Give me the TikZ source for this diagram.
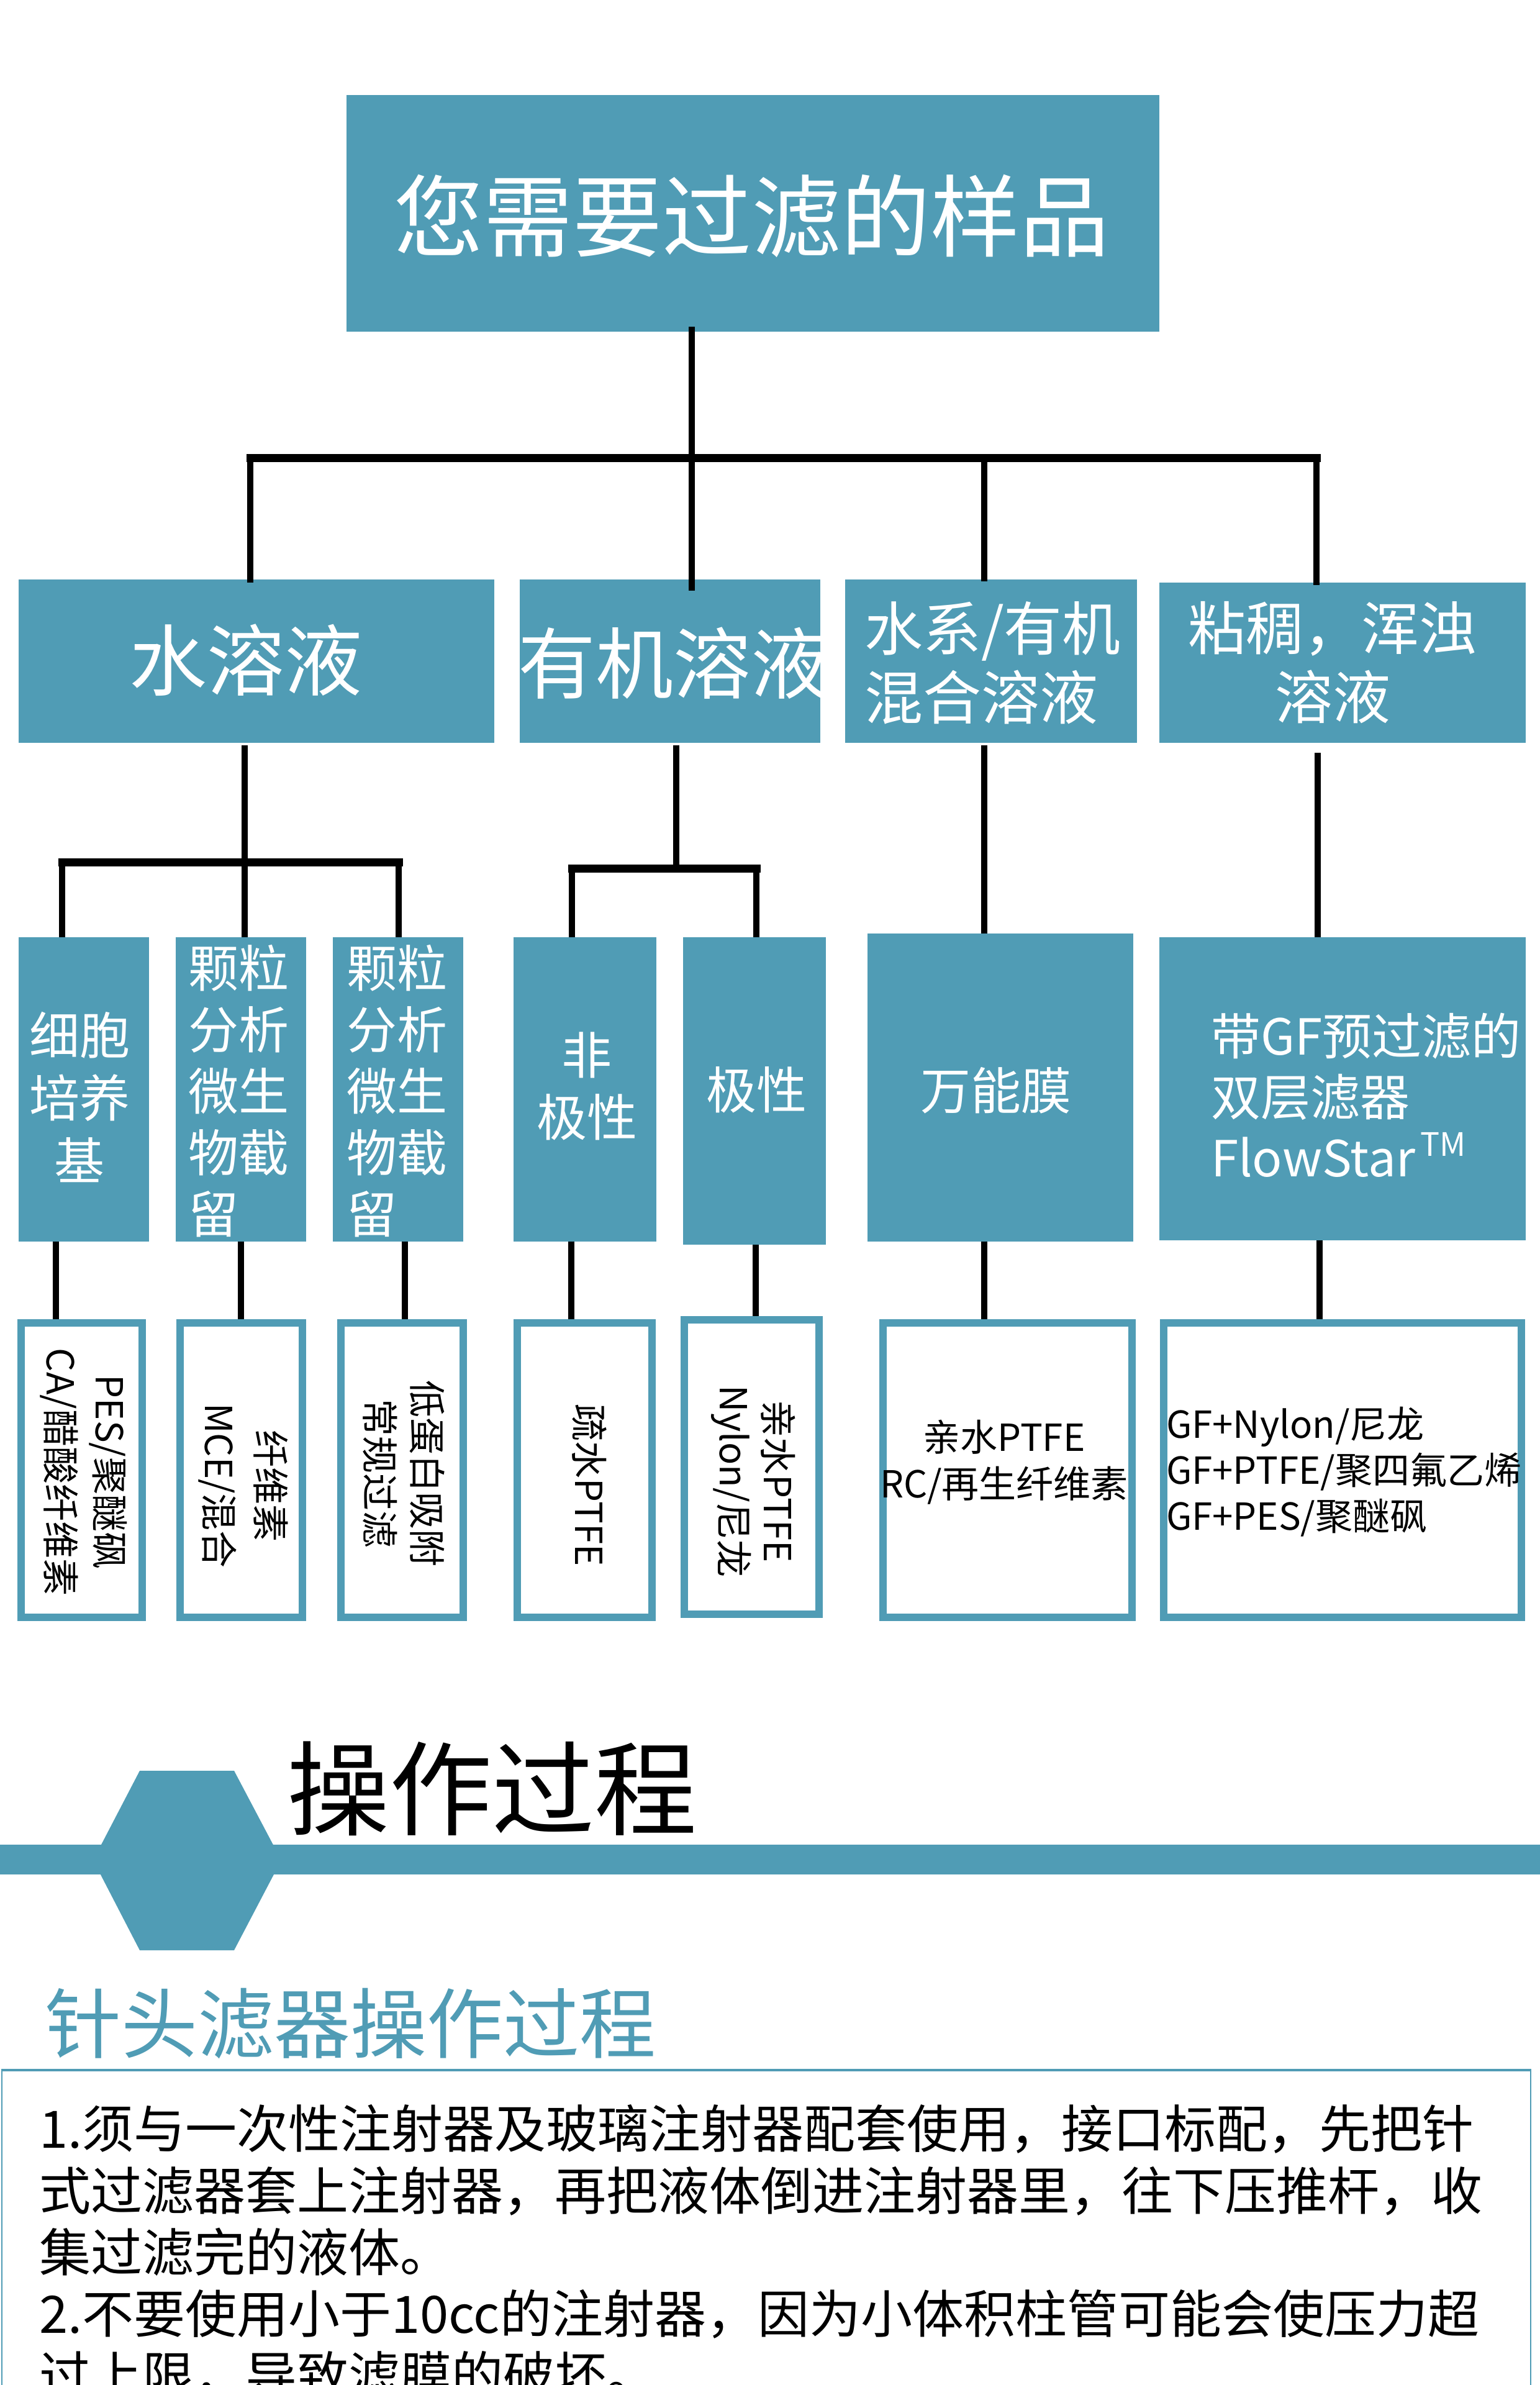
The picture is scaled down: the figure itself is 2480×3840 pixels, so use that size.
\documentclass[tikz,border=0pt]{standalone}
\usepackage{fontspec}
\setmainfont{Noto Sans CJK SC}
\definecolor{teal1}{RGB}{80,156,181}
\newcommand{\myfs}[2]{\fontsize{#1pt}{#2pt}\selectfont}
\tikzset{
  tealbox/.style={fill=teal1, draw=none, inner sep=0pt, outer sep=0pt, anchor=north west},
  outbox/.style={fill=white, draw=teal1, line width=12pt, inner sep=0pt, outer sep=0pt, anchor=north west, minimum height=474pt},
  conn/.style={draw=black, line width=10pt},
  barline/.style={draw=black, line width=13pt, line cap=rect},
  wlbl/.style={text=white, inner sep=0pt, outer sep=0pt, align=center},
  blbl/.style={text=black, inner sep=0pt, outer sep=0pt, align=center},
}
\begin{document}
\begin{tikzpicture}[x=1pt,y=-1pt]
\useasboundingbox (0,0) rectangle (2480,3840);
\fill[white] (0,0) rectangle (2480,3840);
\clip (0,0) rectangle (2480,3840);

% ---------- boxes ----------
\node[tealbox, minimum width=1309pt, minimum height=381pt] (root) at (558,153) {};

\node[tealbox, minimum width=766pt, minimum height=263pt] (A) at (30,933) {};
\node[tealbox, minimum width=484pt, minimum height=263pt] (B) at (837,933) {};
\node[tealbox, minimum width=470pt, minimum height=263pt] (C) at (1361,933) {};
\node[tealbox, minimum width=590pt, minimum height=258pt] (D) at (1867,938) {};

\node[tealbox, minimum width=210pt, minimum height=490pt] (a) at (30,1509) {};
\node[tealbox, minimum width=210pt, minimum height=490pt] (b) at (283,1509) {};
\node[tealbox, minimum width=210pt, minimum height=490pt] (c) at (536,1509) {};
\node[tealbox, minimum width=230pt, minimum height=490pt] (d) at (827,1509) {};
\node[tealbox, minimum width=230pt, minimum height=495pt] (e) at (1100,1509) {};
\node[tealbox, minimum width=428pt, minimum height=496pt] (f) at (1397,1503) {};
\node[tealbox, minimum width=590pt, minimum height=488pt] (g) at (1867,1509) {};

\node[outbox, minimum width=195pt] (o1) at (34,2130) {};
\node[outbox, minimum width=197pt] (o2) at (290,2130) {};
\node[outbox, minimum width=197pt] (o3) at (549,2130) {};
\node[outbox, minimum width=217pt] (o4) at (833,2130) {};
\node[outbox, minimum width=217pt] (o5) at (1102,2125) {};
\node[outbox, minimum width=401pt] (o6) at (1422,2130) {};
\node[outbox, minimum width=576pt] (o7) at (1874,2130) {};

% ---------- texts in boxes ----------
\node[wlbl, font=\myfs{144}{170}] (troot) at (1210,348) {您需要过滤的样品};

\node[wlbl, font=\myfs{125}{150}] (tA) at (396,1063) {水溶液};
\begin{scope}
  \clip (B.north west) rectangle (B.south east);
  \node[wlbl, anchor=west, font=\myfs{125}{150}] (tB) at (834,1068) {有机溶液};
\end{scope}
\node[wlbl, align=left, anchor=west, font=\myfs{94}{111}] (tC) at (1392,1067) {水系/有机\\混合溶液};
\node[wlbl, font=\myfs{93}{111}] (tD) at (2146,1067) {粘稠，浑浊\\溶液};

\node[wlbl, font=\myfs{81}{101}] (ta) at (128,1766) {细胞\\培养\\基};
\node[wlbl, align=left, anchor=west, font=\myfs{81}{99}] (tb) at (303,1757) {颗粒\\分析\\微生\\物截\\留};
\node[wlbl, align=left, anchor=west, font=\myfs{81}{99}] (tc) at (558,1757) {颗粒\\分析\\微生\\物截\\留};
\node[wlbl, font=\myfs{81}{100}] (td) at (945,1749) {非\\极性};
\node[wlbl, font=\myfs{81}{100}] (te) at (1218,1755) {极性};
\node[wlbl, font=\myfs{81}{100}] (tf) at (1604,1756) {万能膜};
\node[wlbl, align=left, anchor=west, font=\myfs{80}{98}] (tg) at (1950,1763)
  {带GF预过滤的\\双层滤器\\FlowStar\hspace{8pt}\raisebox{33pt}{\myfs{52}{52}TM}};

\node[blbl, rotate=-90, font=\myfs{60}{79}] (t1) at (135,2370) {PES/聚醚砜\\CA/醋酸纤维素};
\node[blbl, rotate=-90, font=\myfs{60}{83}] (t2) at (392,2392) {纤维素\\MCE/混合};
\node[blbl, rotate=-90, font=\myfs{60}{76}] (t3) at (650,2372) {低蛋白吸附\\常规过滤};
\node[blbl, rotate=-90, font=\myfs{60}{76}] (t4) at (949,2391) {疏水PTFE};
\node[blbl, rotate=-90, font=\myfs{60}{71}] (t5) at (1213,2385) {亲水PTFE\\Nylon/尼龙};
\node[blbl, font=\myfs{60}{75}] (t6) at (1617,2354) {亲水PTFE\\RC/再生纤维素};
\node[blbl, align=left, anchor=west, font=\myfs{60}{74}] (t7) at (1878,2370)
  {GF+Nylon/尼龙\\GF+PTFE/聚四氟乙烯\\GF+PES/聚醚砜};

% ---------- connectors ----------
\coordinate (j0) at (1114,737);
\coordinate (v1) at (403,737);
\coordinate (v3) at (1585,737);
\coordinate (v4) at (2120,737);
\draw[conn, shorten <=-8pt] (j0 |- root.south) -- (j0);
\draw[barline] (v1) -- (v4);
\draw[conn, shorten >=-5pt] (v1) -- (v1 |- A.north);
\draw[conn, shorten >=-18pt] (j0) -- (j0 |- B.north);
\draw[conn, shorten >=-3pt] (v3) -- (v3 |- C.north);
\draw[conn, shorten >=-4pt] (v4) -- (v4 |- D.north);

\coordinate (ka) at (100,1388);
\coordinate (ja) at (394,1388);
\coordinate (kc) at (642,1388);
\draw[conn, shorten <=4pt] (ja |- A.south) -- (ja |- b.north);
\draw[barline] (ka) -- (kc);
\draw[conn] (ka) -- (ka |- a.north);
\draw[conn] (kc) -- (kc |- c.north);

\coordinate (jb) at (1089,1398);
\coordinate (kd) at (921,1398);
\coordinate (ke) at (1218,1398);
\draw[conn, shorten <=4pt] (jb |- B.south) -- (jb);
\draw[barline] (kd) -- (ke);
\draw[conn] (kd) -- (kd |- d.north);
\draw[conn] (ke) -- (ke |- e.north);

\coordinate (kf) at (1585,1350);
\coordinate (kg) at (2122,1350);
\draw[conn, shorten <=4pt] (kf |- C.south) -- (kf |- f.north);
\draw[conn, shorten <=16pt] (kg |- D.south) -- (kg |- g.north);

\coordinate (m1) at (90,2060);
\coordinate (m2) at (388,2060);
\coordinate (m3) at (652,2060);
\coordinate (m4) at (920,2060);
\coordinate (m5) at (1217,2060);
\coordinate (m6) at (1585,2060);
\coordinate (m7) at (2125,2060);
\draw[conn, shorten >=6pt] (m1 |- a.south) -- (m1 |- o1.north);
\draw[conn, shorten >=6pt] (m2 |- b.south) -- (m2 |- o2.north);
\draw[conn, shorten >=6pt] (m3 |- c.south) -- (m3 |- o3.north);
\draw[conn, shorten >=6pt] (m4 |- d.south) -- (m4 |- o4.north);
\draw[conn, shorten >=6pt] (m5 |- e.south) -- (m5 |- o5.north);
\draw[conn, shorten >=6pt] (m6 |- f.south) -- (m6 |- o6.north);
\draw[conn, shorten >=6pt] (m7 |- g.south) -- (m7 |- o7.north);

% ---------- section header ----------
\fill[teal1] (0,2970) rectangle (2480,3018);
\fill[teal1] (225,2851) -- (377,2851) -- (453,2995) -- (377,3140) -- (225,3140) -- (150,2995) -- cycle;
\node[blbl, font=\myfs{165}{190}] (sec) at (792,2880) {操作过程};

\node[blbl, text=teal1, font=\myfs{123}{140}] (sub) at (564,3258) {针头滤器操作过程};

\draw[teal1, line width=2pt] (3,3900) -- (3,3333);
\draw[teal1, line width=2pt] (2465,3333) -- (2465,3900);
\draw[teal1, line width=4pt] (2,3333) -- (2466,3333);

\node[blbl, anchor=base west, font=\myfs{83}{100}] (p1) at (63,3458) {1.须与一次性注射器及玻璃注射器配套使用，接口标配，先把针};
\node[blbl, anchor=base west, font=\myfs{83}{100}] (p2) at (63,3558) {式过滤器套上注射器，再把液体倒进注射器里，往下压推杆，收};
\node[blbl, anchor=base west, font=\myfs{83}{100}] (p3) at (63,3657) {集过滤完的液体。};
\node[blbl, anchor=base west, font=\myfs{83}{100}] (p4) at (63,3756) {2.不要使用小于10cc的注射器，因为小体积柱管可能会使压力超};
\node[blbl, anchor=base west, font=\myfs{83}{100}] (p5) at (63,3855) {过上限，导致滤膜的破坏。};
\end{tikzpicture}
\end{document}
